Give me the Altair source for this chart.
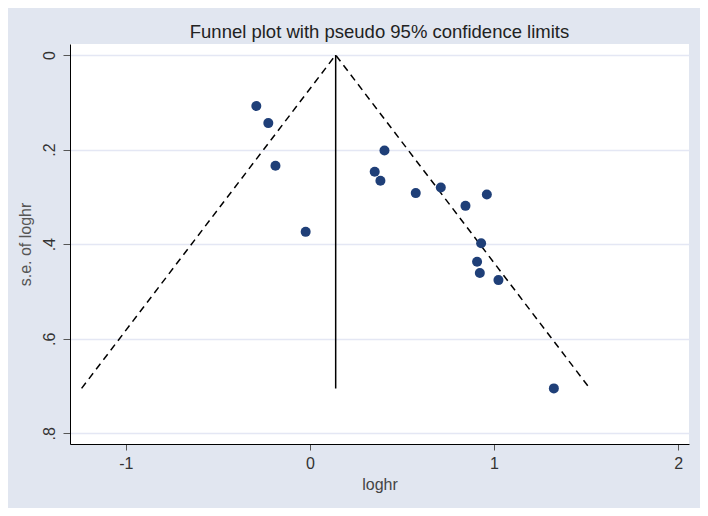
import altair as alt
import pandas as pd

loghr = [-0.291, -0.226, -0.187, -0.023, 0.405, 0.352, 0.383, 0.575, 0.711,
         0.845, 0.961, 0.930, 0.908, 0.923, 1.024, 1.325]
se = [0.108, 0.144, 0.234, 0.374, 0.202, 0.247, 0.266, 0.292, 0.280,
      0.319, 0.295, 0.398, 0.437, 0.461, 0.476, 0.705]

funnel_x = [-1.24, 0.14, 1.52]
funnel_y = [0.705, 0.0, 0.705]
center_x = [0.14, 0.14]
center_y = [0.0, 0.705]

y_ticks = [0, 0.2, 0.4, 0.6, 0.8]
x_ticks = [-1, 0, 1, 2]

FONT = "Liberation Sans"

pts = pd.DataFrame({"loghr": loghr, "se": se})
fun = pd.DataFrame({"x": funnel_x, "y": funnel_y, "o": [0, 1, 2]})
cen = pd.DataFrame({"x": center_x, "y": center_y})

xs = alt.Scale(domain=[-1.303, 2.059], nice=False, zero=False)
ys = alt.Scale(domain=[-0.0233, 0.8226], nice=False, zero=False, reverse=True)

xaxis = alt.Axis(values=x_ticks, grid=False, title="loghr", labelFontSize=16,
                 titleFontSize=16, tickSize=6, labelPadding=5, titlePadding=5,
                 domainColor="black", tickColor="#555555", labelColor="#333333",
                 titleColor="#444444", labelFont=FONT, titleFont=FONT,
                 titleFontWeight="normal",
                 labelExpr="datum.value < 0 ? '-' + abs(datum.value) : '' + datum.value")
yaxis = alt.Axis(values=y_ticks, grid=True, gridColor="#E4E7F4", gridWidth=1.5,
                 title="s.e. of loghr", labelFontSize=16, titleFontSize=16,
                 tickSize=7, labelPadding=9, titlePadding=8, labelAngle=-90,
                 labelAlign="center", labelBaseline="alphabetic",
                 labelExpr="datum.value == 0 ? '0' : replace(format(datum.value, '.1f'), '0.', '.')",
                 domainColor="black", tickColor="#555555", labelColor="#333333",
                 titleColor="#555555", labelFont=FONT, titleFont=FONT,
                 titleFontWeight="normal")

points = alt.Chart(pts).mark_circle(size=100, color="#1F3F78", opacity=1).encode(
    x=alt.X("loghr:Q", scale=xs, axis=xaxis),
    y=alt.Y("se:Q", scale=ys, axis=yaxis),
)

funnel = alt.Chart(fun).mark_line(color="black", strokeDash=[7, 5], strokeWidth=1.5).encode(
    x=alt.X("x:Q", scale=xs),
    y=alt.Y("y:Q", scale=ys),
    order="o:Q",
)

center = alt.Chart(cen).mark_line(color="black", strokeWidth=1.5).encode(
    x=alt.X("x:Q", scale=xs),
    y=alt.Y("y:Q", scale=ys),
)

chart = alt.layer(center, funnel, points).properties(
    width=619,
    height=400,
    title=alt.TitleParams("Funnel plot with pseudo 95% confidence limits",
                          fontSize=18.5, font=FONT, fontWeight="normal",
                          color="#222222", anchor="middle", offset=3),
    padding={"left": 62, "top": 36, "right": 11, "bottom": 64},
    autosize=alt.AutoSizeParams(type="none"),
).configure(background="#E1E6F0").configure_view(fill="white", stroke=None)

chart.save("out.html", embed_options={"renderer": "svg", "actions": False})
